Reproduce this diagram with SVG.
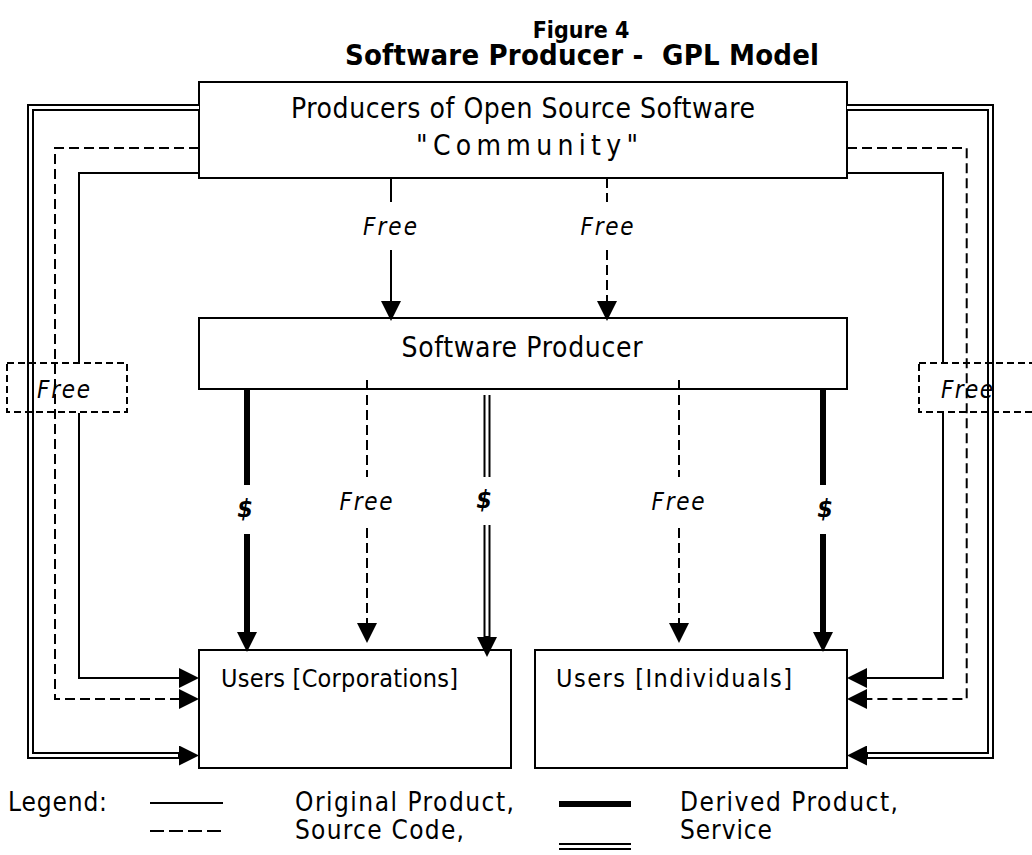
<svg xmlns="http://www.w3.org/2000/svg" width="1032" height="855" viewBox="0 0 1032 855">
  <defs>
    <style>
      .box { fill: #fff; stroke: #000; stroke-width: 2; }
      .ln { fill: none; stroke: #000; stroke-width: 2; }
      .dash { stroke-dasharray: 10 5; }
      .thick { stroke-width: 6; }
      .dbl { stroke-width: 7; }
      .core { fill: none; stroke: #fff; stroke-width: 3; }
      .tagbox { fill: none; stroke: #000; stroke-width: 2; stroke-dasharray: 7 4; }
      .t { font-family: "DejaVu Sans Condensed", "DejaVu Sans", sans-serif; font-stretch: condensed; fill: #000; }
      .title { font-size: 29px; font-weight: bold; text-anchor: middle; }
      .big { font-size: 28px; text-anchor: middle; }
      .user { font-size: 25px; }
      .free { font-size: 24px; font-style: italic; }
      .mid { text-anchor: middle; }
      .cash { font-size: 25px; font-style: italic; font-weight: bold; text-anchor: middle; }
      .leg { font-size: 26px; }
    </style>
    <marker id="head" viewBox="0 0 20 20" markerUnits="userSpaceOnUse" markerWidth="20" markerHeight="20" refX="1" refY="10" orient="auto">
      <path d="M0,0 L20,10 L0,20 Z" fill="#000"/>
    </marker>
  </defs>

  <rect width="1032" height="855" fill="#fff"/>

  <!-- heading -->
  <g id="title">
    <text class="t title" x="581" y="38" style="font-size:23px">Figure 4</text>
    <text class="t title" x="582" y="65" textLength="474" xml:space="preserve">Software Producer -  GPL Model</text>
  </g>

  <!-- nodes -->
  <g id="community">
    <rect class="box" x="199" y="82" width="648" height="96"/>
    <text class="t big" x="523" y="118" textLength="464">Producers of Open Source Software</text>
    <text class="t big" x="527" y="155" textLength="222">"Community"</text>
  </g>

  <g id="producer">
    <rect class="box" x="199" y="318" width="648" height="71"/>
    <text class="t big" x="522" y="357" textLength="241">Software Producer</text>
  </g>

  <g id="corporations">
    <rect class="box" x="199" y="650" width="312" height="118"/>
    <text class="t user" x="221" y="687" textLength="237">Users [Corporations]</text>
  </g>

  <g id="individuals">
    <rect class="box" x="535" y="650" width="312" height="118"/>
    <text class="t user" x="556" y="687" textLength="236">Users [Individuals]</text>
  </g>

  <!-- connectors -->
  <g id="connectors">
    <!-- community to producer -->
    <path class="ln" d="M391,178 V202"/>
    <path class="ln" d="M391,250 V302" marker-end="url(#head)"/>
    <text class="t free mid" x="390" y="235" textLength="54">Free</text>

    <path class="ln dash" d="M607,178 V202"/>
    <path class="ln dash" d="M607,250 V302" marker-end="url(#head)"/>
    <text class="t free mid" x="607" y="235" textLength="53">Free</text>

    <!-- producer to users -->
    <path class="ln thick" d="M247,389 V485"/>
    <path class="ln thick" d="M247,534 V633" marker-end="url(#head)"/>
    <text class="t cash" x="245" y="517">$</text>

    <path class="ln dash" d="M367,380 V477"/>
    <path class="ln dash" d="M367,528 V624" marker-end="url(#head)"/>
    <text class="t free mid" x="366" y="510" textLength="53">Free</text>

    <path class="ln dbl" d="M487,395 V477"/>
    <path class="core" d="M487,395 V477"/>
    <path class="ln dbl" d="M487,525 V638" marker-end="url(#head)"/>
    <path class="core" d="M487,525 V636"/>
    <text class="t cash" x="484" y="508">$</text>

    <path class="ln dash" d="M679,380 V477"/>
    <path class="ln dash" d="M679,528 V624" marker-end="url(#head)"/>
    <text class="t free mid" x="678" y="510" textLength="53">Free</text>

    <path class="ln thick" d="M823,389 V485"/>
    <path class="ln thick" d="M823,534 V633" marker-end="url(#head)"/>
    <text class="t cash" x="825" y="517">$</text>

    <!-- community straight to corporations -->
    <path class="ln dbl" d="M199,107.5 H30.5 V755.5 H180" marker-end="url(#head)"/>
    <path class="core" d="M199,107.5 H30.5 V755.5 H178"/>
    <path class="ln dash" d="M199,148 H55 V699 H180" marker-end="url(#head)"/>
    <path class="ln" d="M199,173 H79 V363"/>
    <path class="ln" d="M79,413 V678 H180" marker-end="url(#head)"/>
    <rect class="tagbox" x="7" y="363" width="120" height="49"/>
    <text class="t free" x="37" y="398" textLength="53">Free</text>

    <!-- community straight to individuals -->
    <path class="ln dbl" d="M847,107.5 H990.5 V755.5 H866" marker-end="url(#head)"/>
    <path class="core" d="M847,107.5 H990.5 V755.5 H868"/>
    <path class="ln dash" d="M847,148 H966.7 V699 H866" marker-end="url(#head)"/>
    <path class="ln" d="M847,173 H943 V363"/>
    <path class="ln" d="M943,413 V678 H866" marker-end="url(#head)"/>
    <rect class="tagbox" x="919" y="363" width="120" height="49"/>
    <text class="t free" x="941" y="398" textLength="52">Free</text>
  </g>

  <!-- key -->
  <g id="legend">
    <text class="t leg" x="8" y="811" textLength="99">Legend:</text>
    <path class="ln" d="M150,803 H223"/>
    <path class="ln" d="M150,831 H223" stroke-dasharray="14 5"/>
    <text class="t leg" x="295" y="811" textLength="219">Original Product,</text>
    <text class="t leg" x="295" y="839" textLength="169">Source Code,</text>
    <path class="ln thick" d="M559,804 H631"/>
    <path class="ln dbl" d="M559,846.5 H631"/>
    <path class="core" d="M559,846.5 H631"/>
    <text class="t leg" x="680" y="811" textLength="218">Derived Product,</text>
    <text class="t leg" x="680" y="839" textLength="92">Service</text>
  </g>
</svg>
